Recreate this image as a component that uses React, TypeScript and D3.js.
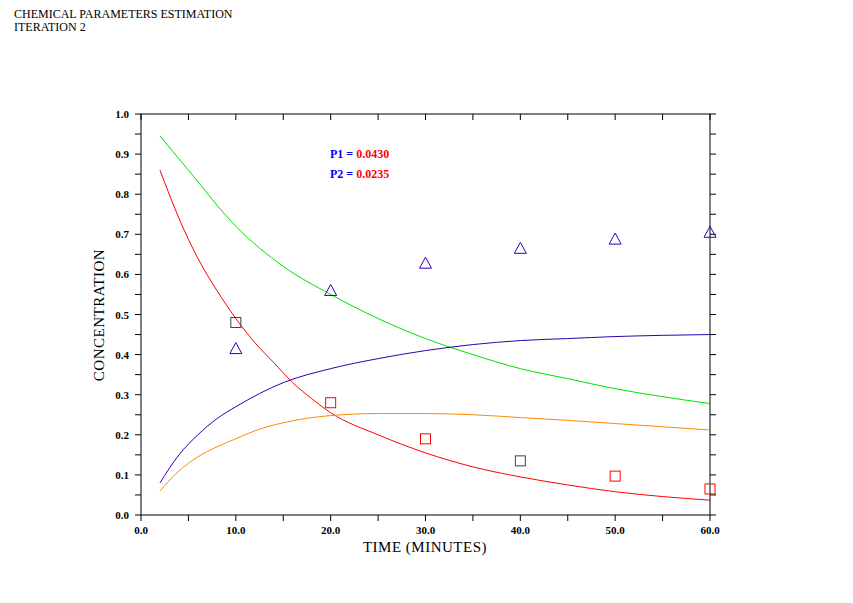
import React from "react";
import * as d3 from "d3";

const redT = [2,4,6,8,10,12,14,16,18,20,25,30,35,40,45,50,55,60];
const redV = [0.86,0.74,0.64,0.56,0.49,0.43,0.38,0.33,0.29,0.255,0.2,0.155,0.12,0.095,0.075,0.058,0.046,0.037];
const greenT = [2,5,10,15,20,25,30,35,40,45,50,55,60];
const greenV = [0.945,0.86,0.72,0.62,0.55,0.49,0.44,0.4,0.365,0.34,0.315,0.295,0.278];
const purpleT = [2,4,6,8,10,15,20,25,30,35,40,45,50,55,60];
const purpleV = [0.08,0.15,0.2,0.24,0.27,0.33,0.365,0.39,0.41,0.425,0.435,0.44,0.445,0.448,0.45];
const orangeT = [2,4,6,8,10,12,15,20,25,30,35,40,45,50,55,60];
const orangeV = [0.06,0.11,0.145,0.17,0.19,0.21,0.23,0.248,0.253,0.253,0.25,0.243,0.236,0.228,0.22,0.212];
const sqT = [10,20,30,40,50,60];
const sqV = [0.48,0.28,0.19,0.135,0.097,0.065];
const sqC = ["#404040","#ff0000","#ff0000","#404040","#ff0000","#ff0000"];
const triT = [10,20,30,40,50,60];
const triV = [0.415,0.56,0.628,0.665,0.688,0.705];
const xTicks = [0,10,20,30,40,50,60];
const yTicks = [0,0.1,0.2,0.3,0.4,0.5,0.6,0.7,0.8,0.9,1.0];

export default function App() {
  const x = d3.scaleLinear().domain([0, 60]).range([141, 710]);
  const y = d3.scaleLinear().domain([0, 1]).range([515, 114]);
  const line = (ts: number[], vs: number[]) =>
    d3.line<number>().x((_, i) => x(ts[i])).y((v) => y(v)).curve(d3.curveMonotoneX)(vs) || "";
  const minorX = d3.range(0, 61, 5);
  const minorY = d3.range(0, 1.0001, 0.05);
  const f = "'Liberation Serif', 'DejaVu Serif', serif";
  return (
    <svg width={853} height={603} style={{ position: "absolute", left: 0, top: 0, background: "#fff" }} fontFamily={f}>
      <text x={14} y={18} fontSize={12}>CHEMICAL PARAMETERS ESTIMATION</text>
      <text x={14} y={31} fontSize={12}>ITERATION 2</text>
      <rect x={141} y={114} width={569} height={401} fill="none" stroke="#000" />
      {minorX.map((t) => (
        <g key={"x" + t}>
          <line x1={x(t)} x2={x(t)} y1={515} y2={521} stroke="#000" />
          <line x1={x(t)} x2={x(t)} y1={114} y2={120} stroke="#000" />
        </g>
      ))}
      {minorY.map((v, i) => (
        <g key={"y" + i}>
          <line x1={135} x2={141} y1={y(v)} y2={y(v)} stroke="#000" />
          <line x1={710} x2={716} y1={y(v)} y2={y(v)} stroke="#000" />
        </g>
      ))}
      {xTicks.map((t) => (
        <text key={t} x={x(t)} y={534} fontSize={11} fontWeight="bold" textAnchor="middle">{t.toFixed(1)}</text>
      ))}
      {yTicks.map((v) => (
        <text key={v} x={129} y={y(v) + 4} fontSize={11} fontWeight="bold" textAnchor="end">{v.toFixed(1)}</text>
      ))}
      <text x={425} y={552} fontSize={15} textAnchor="middle" letterSpacing={0.5}>TIME  (MINUTES)</text>
      <text transform="translate(104,315) rotate(-90)" fontSize={15} textAnchor="middle" letterSpacing={0.5}>CONCENTRATION</text>
      <text x={330} y={158} fontSize={12} fontWeight="bold"><tspan fill="#0000ff">P1 = </tspan><tspan fill="#ff0000">0.0430</tspan></text>
      <text x={330} y={178} fontSize={12} fontWeight="bold"><tspan fill="#0000ff">P2 = </tspan><tspan fill="#ff0000">0.0235</tspan></text>
      <path d={line(greenT, greenV)} fill="none" stroke="#00e000" />
      <path d={line(redT, redV)} fill="none" stroke="#ff0000" />
      <path d={line(purpleT, purpleV)} fill="none" stroke="#3000b0" />
      <path d={line(orangeT, orangeV)} fill="none" stroke="#ff8c00" />
      {sqT.map((t, i) => (
        <rect key={"s" + t} x={x(t) - 5} y={y(sqV[i]) - 5} width={10} height={10} fill="none" stroke={sqC[i]} />
      ))}
      {triT.map((t, i) => {
        const cx = x(t), cy = y(triV[i]);
        return <path key={"t" + t} d={`M${cx},${cy - 6}L${cx + 6},${cy + 5}L${cx - 6},${cy + 5}Z`} fill="none" stroke="#3000b0" />;
      })}
    </svg>
  );
}
